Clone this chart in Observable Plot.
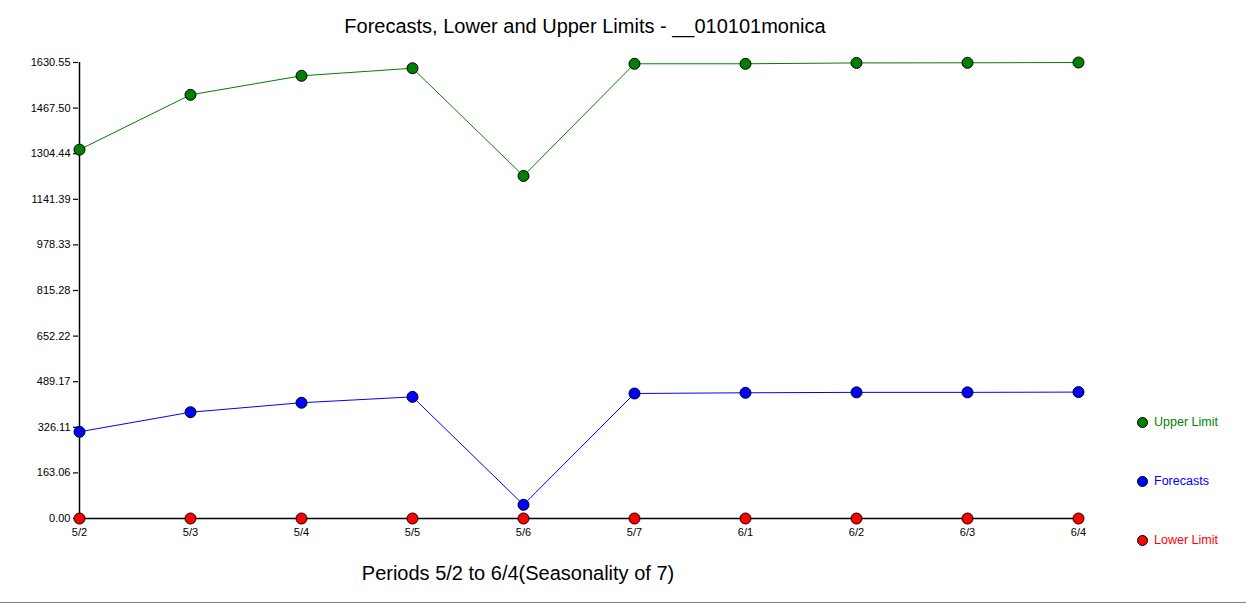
<!DOCTYPE html>
<html>
<head>
<meta charset="utf-8">
<script src="https://cdn.jsdelivr.net/npm/d3@7"></script>
<script src="https://cdn.jsdelivr.net/npm/@observablehq/plot@0.6"></script>
<style>
  html, body { margin: 0; padding: 0; background: #fff; }
  #wrap { position: relative; width: 1246px; height: 605px; font-family: "Liberation Sans", Arial, sans-serif; overflow: hidden; }
  #title { position: absolute; left: 0; width: 1170px; top: 15px; text-align: center; font-size: 20px; color: #000; white-space: nowrap; }
  #xlabel { position: absolute; left: 0; width: 1036px; top: 562px; text-align: center; font-size: 20px; color: #000; white-space: nowrap; }
  #legend { position: absolute; left: 1137px; top: 415px; font-size: 12.5px; }
  .li { position: absolute; left: 0; display: flex; align-items: center; white-space: nowrap; }
  .sw { width: 11px; height: 11px; border-radius: 50%; box-sizing: border-box; border: 1px solid #000; margin-right: 6px; }
  #bottomline { position: absolute; left: 0; top: 602px; width: 1246px; height: 1px; background: #808080; }
  svg { position: absolute; left: 0; top: 0; }
</style>
</head>
<body>
<div id="wrap"></div>
<script>
const periods = ["5/2","5/3","5/4","5/5","5/6","5/7","6/1","6/2","6/3","6/4"];
const upperLimit = [1319, 1515, 1583, 1610, 1225, 1626, 1626, 1629, 1629.5, 1630.55];
const forecasts  = [310, 380, 414, 435, 49, 447, 449.5, 451, 451, 452];
const lowerLimit = [0, 0, 0, 0, 0, 0, 0, 0, 0, 0];
const yTicks = [0, 163.06, 326.11, 489.17, 652.22, 815.28, 978.33, 1141.39, 1304.44, 1467.50, 1630.55];
const seriesNames = ["Upper Limit", "Forecasts", "Lower Limit"];
const seriesColors = ["#008000", "#0000ff", "#ff0000"];
const titleText = "Forecasts, Lower and Upper Limits - __010101monica";
const xTitleText = "Periods 5/2 to 6/4(Seasonality of 7)";

const values = [upperLimit, forecasts, lowerLimit];
const seriesData = seriesNames.map((s, i) => periods.map((p, j) => ({series: s, period: p, value: values[i][j]})));

const lineMarks = seriesData.map((d, i) => Plot.line(d, {x: "period", y: "value", stroke: seriesColors[i], strokeWidth: 1}));
const dotMarks = seriesData.map((d, i) => Plot.dot(d, {x: "period", y: "value", fill: seriesColors[i], stroke: "#000", strokeWidth: 1, r: 5.5}));

const plot = Plot.plot({
  width: 1246,
  height: 605,
  marginLeft: 78,
  marginRight: 167,
  marginTop: 62,
  marginBottom: 87,
  style: {fontFamily: '"Liberation Sans", Arial, sans-serif', fontSize: "11px", color: "#000", background: "transparent"},
  x: {type: "point", domain: periods, padding: 0, label: null},
  y: {domain: [0, 1630.55], ticks: yTicks, label: null},
  marks: [
    ...lineMarks,
    Plot.ruleY([0], {stroke: "#000", strokeWidth: 1.5}),
    Plot.ruleX([periods[0]], {y1: 0, y2: 1630.55, stroke: "#000", strokeWidth: 1.5}),
    Plot.axisY({ticks: yTicks, tickSize: 5, tickPadding: 3, tickFormat: d => d.toFixed(2), fontSize: 11, stroke: "#000", strokeWidth: 1.2, label: null}),
    Plot.axisX({tickSize: 6, tickPadding: 4, fontSize: 11, stroke: "#000", strokeWidth: 1.2, label: null}),
    ...dotMarks
  ]
});

const wrap = document.getElementById("wrap");
wrap.appendChild(plot);

const t = document.createElement("div"); t.id = "title"; t.textContent = titleText; wrap.appendChild(t);
const xl = document.createElement("div"); xl.id = "xlabel"; xl.textContent = xTitleText; wrap.appendChild(xl);
const lg = document.createElement("div"); lg.id = "legend";
seriesNames.forEach((s, i) => {
  const li = document.createElement("div"); li.className = "li"; li.style.top = (i * 59) + "px";
  const sw = document.createElement("div"); sw.className = "sw"; sw.style.background = seriesColors[i];
  const tx = document.createElement("span"); tx.textContent = s; tx.style.color = seriesColors[i];
  li.appendChild(sw); li.appendChild(tx); lg.appendChild(li);
});
wrap.appendChild(lg);
const bl = document.createElement("div"); bl.id = "bottomline"; wrap.appendChild(bl);
</script>
</body>
</html>
